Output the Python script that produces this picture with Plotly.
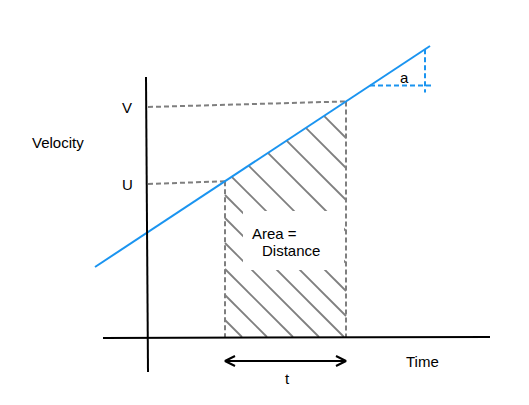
import numpy as np
import plotly.graph_objects as go

# ---- diagram values (canvas units, y downward) ----
VEL_X = [95, 430]          # velocity line end points
VEL_Y = [267, 46]
T_START, T_END = 225, 346  # time interval
AXIS_Y = 337               # time axis level
U_LABEL_Y, V_LABEL_Y = 184, 107
HATCH_C = [-208, -178, -146, -115, -83, -55, -30, -7, 18, 44, 70, 95]
TEXT_BOX_X = [243, 344]
TEXT_BOX_Y = [211, 270]
SLOPE_RUN_X = [370, 425]   # acceleration triangle

m = (VEL_Y[1] - VEL_Y[0]) / (VEL_X[1] - VEL_X[0])
def vel(x):
    return VEL_Y[0] + m * (x - VEL_X[0])

GRAY = "#7f7f7f"
BLUE = "#1a94f0"
fig = go.Figure()

# hatch lines
hx, hy = [], []
for c in HATCH_C:
    xs = max(T_START, (VEL_Y[0] - m * VEL_X[0] - c) / (1 - m))
    xe = min(T_END, AXIS_Y - c)
    if xe > xs:
        hx += [xs, xe, None]
        hy += [xs + c, xe + c, None]
fig.add_trace(go.Scatter(x=hx, y=hy, mode="lines", line=dict(color=GRAY, width=1.8)))

# white box behind the text
fig.add_trace(go.Scatter(x=[TEXT_BOX_X[0], TEXT_BOX_X[1], TEXT_BOX_X[1], TEXT_BOX_X[0], TEXT_BOX_X[0]],
                         y=[TEXT_BOX_Y[0], TEXT_BOX_Y[0], TEXT_BOX_Y[1], TEXT_BOX_Y[1], TEXT_BOX_Y[0]],
                         mode="lines", fill="toself", fillcolor="white", line=dict(width=0)))

dash = dict(color=GRAY, width=2, dash="5px,3px")
# U and V dashed levels
fig.add_trace(go.Scatter(x=[148, T_START, None, 148, T_END],
                         y=[U_LABEL_Y, vel(T_START), None, V_LABEL_Y, vel(T_END)],
                         mode="lines", line=dash))
# vertical dashed sides
fig.add_trace(go.Scatter(x=[T_START, T_START, None, T_END, T_END],
                         y=[vel(T_START), AXIS_Y, None, vel(T_END), AXIS_Y],
                         mode="lines", line=dash))

# acceleration triangle (blue dashed)
fig.add_trace(go.Scatter(x=[SLOPE_RUN_X[0], SLOPE_RUN_X[1] + 7, None, SLOPE_RUN_X[1], SLOPE_RUN_X[1]],
                         y=[vel(SLOPE_RUN_X[0]), vel(SLOPE_RUN_X[0]), None, vel(SLOPE_RUN_X[1]), vel(SLOPE_RUN_X[0]) + 7],
                         mode="lines", line=dict(color=BLUE, width=2, dash="5px,3px")))

# velocity line
fig.add_trace(go.Scatter(x=VEL_X, y=VEL_Y, mode="lines", line=dict(color=BLUE, width=2)))

# axes
fig.add_trace(go.Scatter(x=[146, 148, None, 103, 490], y=[77, 372, None, 338, 337],
                         mode="lines", line=dict(color="black", width=2)))

# time interval arrow
ay = 361
fig.add_trace(go.Scatter(
    x=[T_START, T_END, None, T_START + 10, T_START, T_START + 10, None, T_END - 10, T_END, T_END - 10],
    y=[ay, ay, None, ay - 5, ay, ay + 5, None, ay - 5, ay, ay + 5],
    mode="lines", line=dict(color="black", width=2)))

font = dict(family="Liberation Sans, Arial, sans-serif", size=15, color="black")
labels = [
    ("Velocity", 58, 142),
    ("V", 127, 107),
    ("U", 127, 184),
    ("a", 404, 77),
    ("Area =", 274, 233),
    ("Distance", 291, 250),
    ("t", 287, 378),
    ("Time", 422, 361),
]
for txt, x, y in labels:
    fig.add_annotation(x=x, y=y, text=txt, showarrow=False, font=font,
                       xanchor="center", yanchor="middle")

fig.update_layout(
    width=529, height=405, margin=dict(l=0, r=0, t=0, b=0),
    showlegend=False, plot_bgcolor="white", paper_bgcolor="white",
    hovermode=False,
    xaxis=dict(range=[0, 529], visible=False, fixedrange=True),
    yaxis=dict(range=[405, 0], visible=False, fixedrange=True),
)
fig.write_html("out.html", config={"displayModeBar": False, "staticPlot": True},
               post_script="document.body.style.margin='0';document.body.style.overflow='hidden';")
